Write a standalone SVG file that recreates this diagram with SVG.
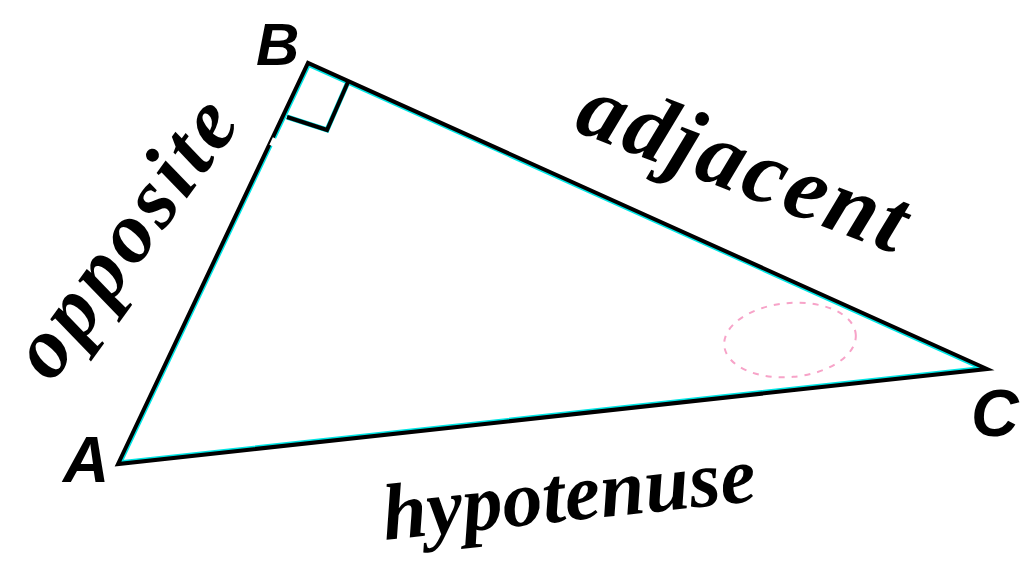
<svg xmlns="http://www.w3.org/2000/svg" width="1029" height="564" viewBox="0 0 1029 564">
<style>
.lbl{font-family:"Liberation Serif",serif;font-weight:bold;font-style:italic;font-size:80px;fill:#000}
.vtx{font-family:"Liberation Sans",sans-serif;font-weight:bold;font-style:italic;font-size:60px;fill:#000}
.edge{fill:none;stroke:#000;stroke-width:4;stroke-linejoin:miter}
.fringe{fill:none;stroke:#00e5e5;stroke-width:7}
</style>
<defs>
<clipPath id="inside"><polygon points="118,464 308,63 987,369"/></clipPath>
</defs>
<rect width="1029" height="564" fill="#fff"/>
<g id="connectors">
<g clip-path="url(#inside)">
<polygon class="fringe" points="118,464 308,63 987,369"/>
<polyline class="fringe" style="stroke-width:5" points="348,82 327,130 287,117"/>
</g>
<polygon class="edge" points="118,464 308,63 987,369"/>
<polyline class="edge" points="348,82 327,130 287,117"/>
<line x1="276.5" y1="139" x2="273" y2="146.5" stroke="#fff" stroke-width="8"/>
<ellipse cx="790" cy="340" rx="66" ry="37" transform="rotate(-5 790 340)" fill="none" stroke="#f7a3c8" stroke-width="2" stroke-dasharray="6 7"/>
</g>
<g id="A"><text class="vtx" x="63" y="482" style="font-size:64px">A</text></g>
<g id="B"><text class="vtx" x="256" y="65">B</text></g>
<g id="C"><text class="vtx" x="971" y="436" style="font-size:66px">C</text></g>
<g id="opposite"><text class="lbl" style="font-size:86px" transform="translate(52 384) rotate(-54)" textLength="322" lengthAdjust="spacing">opposite</text></g>
<g id="adjacent"><text class="lbl" style="font-size:92px" transform="translate(572 130) rotate(21)" textLength="345" lengthAdjust="spacing">adjacent</text></g>
<g id="hypotenuse"><text class="lbl" transform="translate(385 540) rotate(-6)" textLength="375" lengthAdjust="spacing">hypotenuse</text></g>
</svg>
